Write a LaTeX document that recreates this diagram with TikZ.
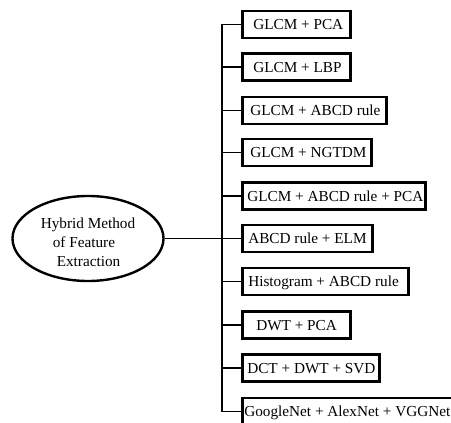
\documentclass[tikz,border=0pt]{standalone}
\usepackage{fontspec}
\setmainfont{Liberation Serif}
\usetikzlibrary{shapes.geometric}
\newcommand{\boxtxt}[3]{\makebox[#1pt][l]{\hspace*{#2pt}#3}}
\begin{document}
\begin{tikzpicture}[x=1pt,y=-1pt,
  every node/.style={font=\fontsize{15.25}{19}\selectfont},
  boxnode/.style={draw, line width=2.6pt, rectangle, anchor=west, inner xsep=0pt, inner ysep=0pt,
    minimum height=27pt, text height=10.2pt, text depth=0pt},
  ellnode/.style={draw, line width=2.4pt, ellipse, inner sep=0pt, minimum width=151pt, minimum height=85pt, align=left},
  conn/.style={line width=1.8pt, line join=miter}]
\useasboundingbox (0,0) rectangle (451,423);
\clip (0,0) rectangle (451,423);
\node[ellnode] (e) at (88,238.5) {\rule{0pt}{18pt}Hybrid Method\\\hspace*{12pt}of Feature\\\hspace*{16pt}Extraction};
\node[boxnode] (b1) at (241,24.5) {\boxtxt{108}{11}{GLCM + PCA}};
\node[boxnode] (b2) at (241,67) {\boxtxt{108}{11}{GLCM + LBP}};
\node[boxnode] (b3) at (241,110.5) {\boxtxt{144}{8}{GLCM + ABCD rule}};
\node[boxnode] (b4) at (241,152.5) {\boxtxt{129}{8}{GLCM + NGTDM}};
\node[boxnode] (b5) at (241,196) {\boxtxt{183}{5}{GLCM + ABCD rule + PCA}};
\node[boxnode] (b6) at (241,238.5) {\boxtxt{130}{6}{ABCD rule + ELM}};
\node[boxnode] (b7) at (241,281.5) {\boxtxt{166}{6}{Histogram + ABCD rule}};
\node[boxnode] (b8) at (241,325) {\boxtxt{108}{14}{DWT + PCA}};
\node[boxnode] (b9) at (241,368) {\boxtxt{137}{5}{DCT + DWT + SVD}};
\node[boxnode] (b10) at (241,411.5) {\boxtxt{250}{2}{GoogleNet + AlexNet + VGGNet}};
\coordinate (t) at (222,0);
\draw[conn] (b1.west) -| (b10.west -| t) -- (b10.west);
\foreach \i in {2,...,9} {\draw[conn] (b\i.west) -- (b\i.west -| t);}
\draw[conn] (e.east) -- (b6.west);
\end{tikzpicture}
\end{document}
